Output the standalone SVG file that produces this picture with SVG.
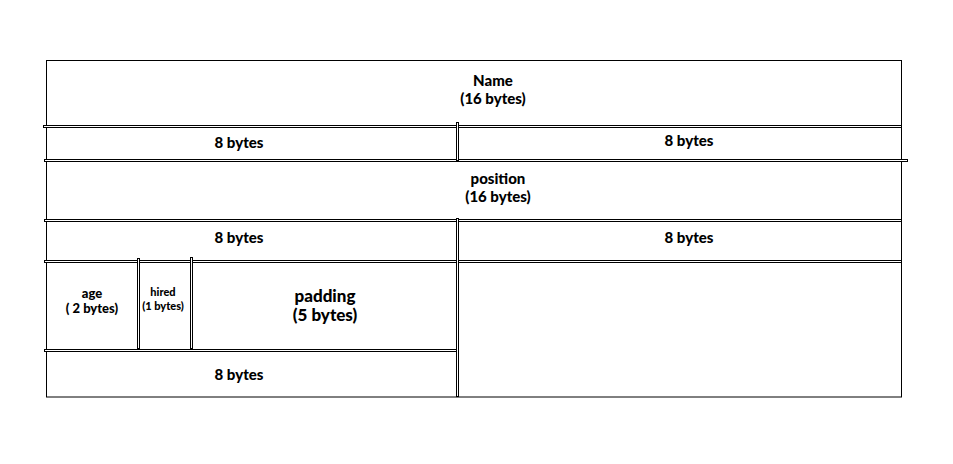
<svg xmlns="http://www.w3.org/2000/svg" width="953" height="464" viewBox="0 0 953 464">
<style>
.frame{fill:none;stroke:#000;stroke-width:1}
.bar{fill:#fff;stroke:#000;stroke-width:1}
text{font-family:Lato,"Noto Sans",sans-serif;font-weight:900;fill:#000;text-anchor:middle}
.t{font-size:15px}
.s{font-size:13px}
.xs{font-size:11px}
.l{font-size:17px}
</style>
<rect width="953" height="464" fill="#fff"/>
<g id="connectors">
<rect class="frame" x="46.5" y="60.5" width="855" height="336.5"/>
<rect class="bar" x="43.5" y="125.5" width="858" height="2"/>
<rect class="bar" x="44.5" y="159.5" width="863" height="2"/>
<rect class="bar" x="44.5" y="219.5" width="857" height="2"/>
<rect class="bar" x="44.5" y="260.5" width="857" height="2"/>
<rect class="bar" x="44.5" y="349.5" width="414" height="2"/>
<rect class="bar" x="456.5" y="122.5" width="2" height="38.5"/>
<rect class="bar" x="456.5" y="218.5" width="2" height="178"/>
<rect class="bar" x="137.5" y="258.5" width="2" height="90.5"/>
<rect class="bar" x="190.5" y="257.5" width="2" height="91.5"/>
</g>
<g id="name"><text class="t" x="493" y="86">Name</text><text class="t" x="493" y="104">(16 bytes)</text></g>
<g id="name-a"><text class="t" x="239" y="148">8 bytes</text></g>
<g id="name-b"><text class="t" x="689" y="146">8 bytes</text></g>
<g id="position"><text class="t" x="498" y="184">position</text><text class="t" x="498" y="202">(16 bytes)</text></g>
<g id="position-a"><text class="t" x="239" y="243">8 bytes</text></g>
<g id="position-b"><text class="t" x="689" y="243">8 bytes</text></g>
<g id="age"><text class="s" x="92" y="298">age</text><text class="s" x="92" y="313">( 2 bytes)</text></g>
<g id="hired"><text class="xs" x="163" y="296">hired</text><text class="xs" x="163" y="310">(1 bytes)</text></g>
<g id="padding"><text class="l" x="325" y="302">padding</text><text class="l" x="325" y="321">(5 bytes)</text></g>
<g id="last"><text class="t" x="239" y="380">8 bytes</text></g>
</svg>
